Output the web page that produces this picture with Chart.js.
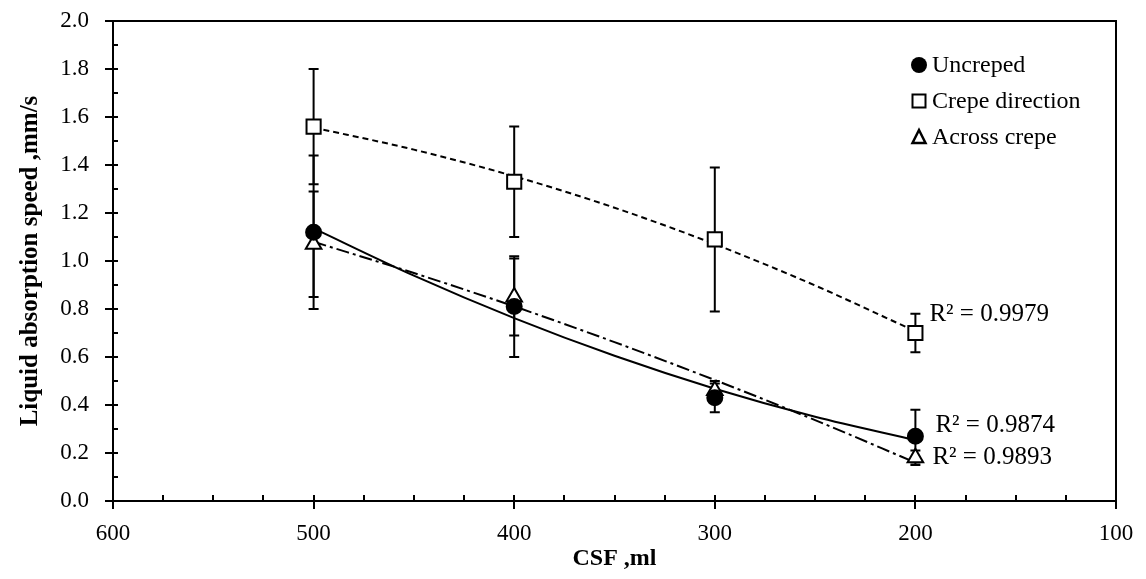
<!DOCTYPE html>
<html>
<head>
<meta charset="utf-8">
<script src="https://cdn.jsdelivr.net/npm/chart.js@4/dist/chart.umd.min.js"></script>
<style>
  html, body { margin: 0; padding: 0; background: #fff; }
  #wrap { width: 1146px; height: 579px; position: relative; }
</style>
</head>
<body>
<div id="wrap"><canvas id="absorptionChart"></canvas></div>
<script>
// CSF levels (x) and measured absorption speed, mm/s
const csf = [500, 400, 300, 200];
const uncreped = [1.12, 0.81, 0.43, 0.27];
const uncrepedErr = [0.32, 0.21, 0.06, 0.11];
const crepeDirection = [1.56, 1.33, 1.09, 0.70];
const crepeDirectionErr = [0.24, 0.23, 0.30, 0.08];
const acrossCrepe = [1.07, 0.85, 0.46, 0.18];
const acrossCrepeErr = [0.22, 0.16, 0.04, 0.03];

// trendlines
const trendCsf = [500, 450, 400, 350, 300, 250, 200];
const uncrepedTrend = [1.136, 0.939, 0.762, 0.605, 0.468, 0.351, 0.254];
const crepeDirectionTrend = [1.556, 1.464, 1.353, 1.222, 1.070, 0.898, 0.707];
const acrossCrepeTrend = [1.080, 0.950, 0.811, 0.662, 0.504, 0.337, 0.160];

// R² labels next to the last point of each series
const r2Labels = ['R² = 0.9979', 'R² = 0.9874', 'R² = 0.9893'];
const r2AnchorValues = [0.78, 0.32, 0.185];

const legendLabels = ['Uncreped', 'Crepe direction', 'Across crepe'];

const xTicks = { min: 100, max: 600, step: 100, minorStep: 25 };
const yTicks = { min: 0, max: 2.0, step: 0.2, minorStep: 0.1 };

const SERIF = "'Liberation Serif', 'Times New Roman', serif";

function toPoints(xs, ys) {
    return xs.map((x, i) => ({ x: x, y: ys[i] }));
}

// error bars, frame, minor ticks, legend and R² labels
const decorPlugin = {
    id: 'decor',
    beforeDatasetsDraw(chart) {
        const ctx = chart.ctx;
        const xs = chart.scales.x, ys = chart.scales.y;
        const sets = [
            [uncreped, uncrepedErr],
            [crepeDirection, crepeDirectionErr],
            [acrossCrepe, acrossCrepeErr]
        ];
        ctx.save();
        ctx.strokeStyle = '#000';
        ctx.lineWidth = 2;
        sets.forEach(([vals, errs]) => {
            vals.forEach((v, i) => {
                const px = xs.getPixelForValue(csf[i]);
                const top = ys.getPixelForValue(v + errs[i]);
                const bot = ys.getPixelForValue(v - errs[i]);
                ctx.beginPath();
                ctx.moveTo(px, top); ctx.lineTo(px, bot);
                ctx.moveTo(px - 5, top); ctx.lineTo(px + 5, top);
                ctx.moveTo(px - 5, bot); ctx.lineTo(px + 5, bot);
                ctx.stroke();
            });
        });
        ctx.restore();
    },
    afterDraw(chart) {
        const ctx = chart.ctx;
        const area = chart.chartArea;
        const xs = chart.scales.x, ys = chart.scales.y;
        ctx.save();
        ctx.strokeStyle = '#000';
        ctx.lineWidth = 2;

        // top and right frame
        ctx.beginPath();
        ctx.moveTo(area.left, area.top);
        ctx.lineTo(area.right, area.top);
        ctx.lineTo(area.right, area.bottom + 8);
        ctx.stroke();

        // minor ticks pointing inward
        ctx.beginPath();
        for (let v = yTicks.min + yTicks.minorStep; v < yTicks.max + 1e-9; v += yTicks.minorStep) {
            const py = Math.round(ys.getPixelForValue(v));
            ctx.moveTo(area.left, py); ctx.lineTo(area.left + 5, py);
        }
        for (let v = xTicks.min + xTicks.minorStep; v < xTicks.max; v += xTicks.minorStep) {
            const px = Math.round(xs.getPixelForValue(v));
            ctx.moveTo(px, area.bottom); ctx.lineTo(px, area.bottom - 6);
        }
        ctx.stroke();

        // legend
        const lx = 919, ly = [65, 101, 137];
        ctx.font = '24px ' + SERIF;
        ctx.fillStyle = '#000';
        ctx.textBaseline = 'middle';
        ctx.textAlign = 'left';
        legendLabels.forEach((label, i) => {
            const y = ly[i];
            ctx.beginPath();
            if (i === 0) {
                ctx.arc(lx, y, 8, 0, Math.PI * 2);
                ctx.fill();
            } else if (i === 1) {
                ctx.lineWidth = 2;
                ctx.strokeRect(lx - 6.5, y - 6.5, 13, 13);
            } else {
                ctx.lineWidth = 2.5;
                ctx.moveTo(lx, y - 7);
                ctx.lineTo(lx + 6.5, y + 6);
                ctx.lineTo(lx - 6.5, y + 6);
                ctx.closePath();
                ctx.stroke();
            }
            ctx.fillText(label, lx + 13, y + 1);
        });

        // R² labels
        ctx.font = '25px ' + SERIF;
        const offsets = [14, 20, 17];
        r2Labels.forEach((t, i) => {
            const px = xs.getPixelForValue(csf[csf.length - 1]) + offsets[i];
            const py = ys.getPixelForValue(r2AnchorValues[i]);
            ctx.fillText(t, px, py + 1);
        });
        ctx.restore();
    }
};

const markerCommon = {
    showLine: false,
    borderColor: '#000',
    borderWidth: 2
};
const trendCommon = {
    showLine: true,
    pointRadius: 0,
    borderColor: '#000',
    borderWidth: 2,
    tension: 0.4,
    cubicInterpolationMode: 'monotone'
};

new Chart(document.getElementById('absorptionChart').getContext('2d'), {
    type: 'scatter',
    data: {
        datasets: [
            Object.assign({}, markerCommon, {
                label: 'Uncreped',
                data: toPoints(csf, uncreped),
                pointStyle: 'circle', pointRadius: 7.5,
                backgroundColor: '#000'
            }),
            Object.assign({}, markerCommon, {
                label: 'Crepe direction',
                data: toPoints(csf, crepeDirection),
                pointStyle: 'rect', pointRadius: 10,
                backgroundColor: '#fff'
            }),
            Object.assign({}, markerCommon, {
                label: 'Across crepe',
                data: toPoints(csf, acrossCrepe),
                pointStyle: 'triangle', pointRadius: 9,
                backgroundColor: '#fff'
            }),
            Object.assign({}, trendCommon, {
                label: 'Uncreped trend',
                data: toPoints(trendCsf, uncrepedTrend)
            }),
            Object.assign({}, trendCommon, {
                label: 'Crepe direction trend',
                data: toPoints(trendCsf, crepeDirectionTrend),
                borderDash: [6, 4]
            }),
            Object.assign({}, trendCommon, {
                label: 'Across crepe trend',
                data: toPoints(trendCsf, acrossCrepeTrend),
                borderDash: [13, 4, 3, 4]
            })
        ]
    },
    options: {
        responsive: true,
        maintainAspectRatio: false,
        animation: false,
        layout: { padding: { top: 21, right: 30, left: 0, bottom: 0 } },
        plugins: {
            legend: { display: false },
            tooltip: { enabled: false }
        },
        scales: {
            x: {
                type: 'linear',
                reverse: true,
                min: xTicks.min,
                max: xTicks.max,
                afterFit: (scale) => {
                    scale.height = 78;
                    scale.paddingLeft = 0;
                    scale.paddingRight = 0;
                },
                ticks: {
                    stepSize: xTicks.step,
                    color: '#000',
                    padding: 11,
                    font: { family: SERIF, size: 23 }
                },
                grid: {
                    drawOnChartArea: false,
                    color: '#000',
                    lineWidth: 2,
                    tickLength: 8
                },
                border: { display: true, color: '#000', width: 2 },
                title: {
                    display: true,
                    text: 'CSF ,ml',
                    color: '#000',
                    padding: { top: 0, bottom: 6 },
                    font: { family: SERIF, size: 24, weight: 'bold' }
                }
            },
            y: {
                min: yTicks.min,
                max: yTicks.max,
                afterFit: (scale) => {
                    scale.width = 113;
                    scale.paddingTop = 0;
                    scale.paddingBottom = 0;
                },
                ticks: {
                    stepSize: yTicks.step,
                    color: '#000',
                    padding: 16,
                    font: { family: SERIF, size: 23 },
                    callback: (v) => Number(v).toFixed(1)
                },
                grid: {
                    drawOnChartArea: false,
                    color: '#000',
                    lineWidth: 2,
                    tickLength: 8
                },
                border: { display: true, color: '#000', width: 2 },
                title: {
                    display: true,
                    text: 'Liquid absorption speed ,mm/s',
                    color: '#000',
                    padding: { top: 16, bottom: 0 },
                    font: { family: SERIF, size: 25, weight: 'bold' }
                }
            }
        }
    },
    plugins: [decorPlugin]
});
</script>
</body>
</html>
